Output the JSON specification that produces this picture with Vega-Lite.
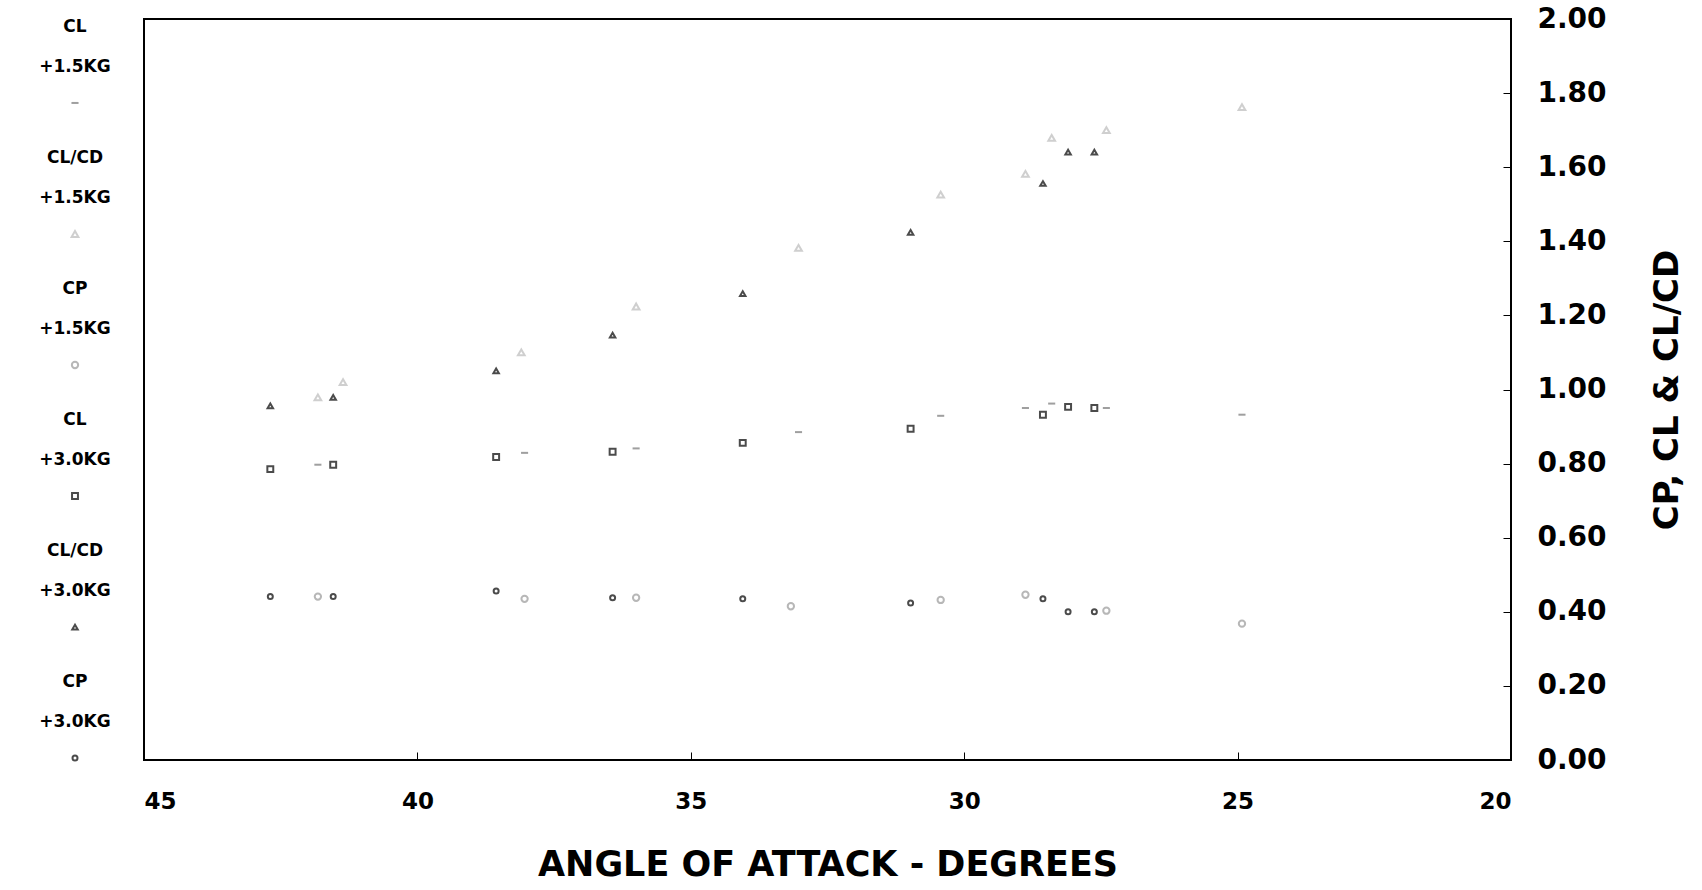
{
  "$schema": "https://vega.github.io/schema/vega-lite/v6.json",
  "background": "white",
  "padding": {"left": 20, "top": 4, "right": 5, "bottom": 5},
  "spacing": 12,
  "config": {
    "font": "DejaVu Sans",
    "view": {"stroke": "black", "strokeWidth": 2},
    "axis": {"labelColor": "black", "titleColor": "black", "domain": false, "grid": false, "labelFontWeight": "bold", "titleFontWeight": "bold", "tickColor": "black"}
  },
  "datasets": {
    "pts": [
      {"aoa": 42.69, "value": 0.956, "series": "CL/CD +3.0KG"},
      {"aoa": 41.54, "value": 0.979, "series": "CL/CD +3.0KG"},
      {"aoa": 38.56, "value": 1.05, "series": "CL/CD +3.0KG"},
      {"aoa": 36.43, "value": 1.147, "series": "CL/CD +3.0KG"},
      {"aoa": 34.05, "value": 1.259, "series": "CL/CD +3.0KG"},
      {"aoa": 30.98, "value": 1.424, "series": "CL/CD +3.0KG"},
      {"aoa": 28.56, "value": 1.556, "series": "CL/CD +3.0KG"},
      {"aoa": 28.1, "value": 1.641, "series": "CL/CD +3.0KG"},
      {"aoa": 27.62, "value": 1.641, "series": "CL/CD +3.0KG"},
      {"aoa": 41.82, "value": 0.979, "series": "CL/CD +1.5KG"},
      {"aoa": 41.36, "value": 1.02, "series": "CL/CD +1.5KG"},
      {"aoa": 38.1, "value": 1.10, "series": "CL/CD +1.5KG"},
      {"aoa": 36.0, "value": 1.224, "series": "CL/CD +1.5KG"},
      {"aoa": 33.03, "value": 1.382, "series": "CL/CD +1.5KG"},
      {"aoa": 30.43, "value": 1.526, "series": "CL/CD +1.5KG"},
      {"aoa": 28.88, "value": 1.582, "series": "CL/CD +1.5KG"},
      {"aoa": 28.4, "value": 1.679, "series": "CL/CD +1.5KG"},
      {"aoa": 27.4, "value": 1.70, "series": "CL/CD +1.5KG"},
      {"aoa": 24.92, "value": 1.762, "series": "CL/CD +1.5KG"},
      {"aoa": 42.69, "value": 0.785, "series": "CL +3.0KG"},
      {"aoa": 41.54, "value": 0.797, "series": "CL +3.0KG"},
      {"aoa": 38.56, "value": 0.818, "series": "CL +3.0KG"},
      {"aoa": 36.43, "value": 0.832, "series": "CL +3.0KG"},
      {"aoa": 34.05, "value": 0.856, "series": "CL +3.0KG"},
      {"aoa": 30.98, "value": 0.894, "series": "CL +3.0KG"},
      {"aoa": 28.56, "value": 0.932, "series": "CL +3.0KG"},
      {"aoa": 28.1, "value": 0.953, "series": "CL +3.0KG"},
      {"aoa": 27.62, "value": 0.95, "series": "CL +3.0KG"},
      {"aoa": 41.82, "value": 0.797, "series": "CL +1.5KG"},
      {"aoa": 38.04, "value": 0.829, "series": "CL +1.5KG"},
      {"aoa": 36.0, "value": 0.841, "series": "CL +1.5KG"},
      {"aoa": 33.03, "value": 0.885, "series": "CL +1.5KG"},
      {"aoa": 30.43, "value": 0.929, "series": "CL +1.5KG"},
      {"aoa": 28.88, "value": 0.95, "series": "CL +1.5KG"},
      {"aoa": 28.4, "value": 0.962, "series": "CL +1.5KG"},
      {"aoa": 27.4, "value": 0.95, "series": "CL +1.5KG"},
      {"aoa": 24.92, "value": 0.932, "series": "CL +1.5KG"},
      {"aoa": 42.69, "value": 0.441, "series": "CP +3.0KG"},
      {"aoa": 41.54, "value": 0.441, "series": "CP +3.0KG"},
      {"aoa": 38.56, "value": 0.456, "series": "CP +3.0KG"},
      {"aoa": 36.43, "value": 0.438, "series": "CP +3.0KG"},
      {"aoa": 34.05, "value": 0.435, "series": "CP +3.0KG"},
      {"aoa": 30.98, "value": 0.424, "series": "CP +3.0KG"},
      {"aoa": 28.56, "value": 0.435, "series": "CP +3.0KG"},
      {"aoa": 28.1, "value": 0.40, "series": "CP +3.0KG"},
      {"aoa": 27.62, "value": 0.40, "series": "CP +3.0KG"},
      {"aoa": 41.82, "value": 0.441, "series": "CP +1.5KG"},
      {"aoa": 38.04, "value": 0.435, "series": "CP +1.5KG"},
      {"aoa": 36.0, "value": 0.438, "series": "CP +1.5KG"},
      {"aoa": 33.17, "value": 0.415, "series": "CP +1.5KG"},
      {"aoa": 30.43, "value": 0.432, "series": "CP +1.5KG"},
      {"aoa": 28.88, "value": 0.446, "series": "CP +1.5KG"},
      {"aoa": 27.4, "value": 0.403, "series": "CP +1.5KG"},
      {"aoa": 24.92, "value": 0.368, "series": "CP +1.5KG"}
    ],
    "leg": [
      {"series": "CL +1.5KG", "name": "CL", "kg": "+1.5KG"},
      {"series": "CL/CD +1.5KG", "name": "CL/CD", "kg": "+1.5KG"},
      {"series": "CP +1.5KG", "name": "CP", "kg": "+1.5KG"},
      {"series": "CL +3.0KG", "name": "CL", "kg": "+3.0KG"},
      {"series": "CL/CD +3.0KG", "name": "CL/CD", "kg": "+3.0KG"},
      {"series": "CP +3.0KG", "name": "CP", "kg": "+3.0KG"}
    ]
  },
  "hconcat": [
    {
      "width": 110,
      "height": 751,
      "view": {"stroke": null},
      "data": {"name": "leg"},
      "encoding": {
        "y": {"field": "series", "type": "ordinal", "sort": null, "scale": {"type": "point", "padding": 0.366}, "axis": null}
      },
      "layer": [
        {"mark": {"type": "text", "dy": -40, "fontSize": 17, "fontWeight": "bold", "color": "black"}, "encoding": {"text": {"field": "name"}}},
        {"mark": {"type": "text", "dy": 0, "fontSize": 17, "fontWeight": "bold", "color": "black"}, "encoding": {"text": {"field": "kg"}}},
        {
          "mark": {"type": "point", "filled": false, "strokeWidth": 2, "yOffset": 36},
          "encoding": {
            "shape": {"field": "series", "type": "nominal", "legend": null, "scale": {"domain": ["CL +1.5KG", "CL/CD +1.5KG", "CP +1.5KG", "CL +3.0KG", "CL/CD +3.0KG", "CP +3.0KG"], "range": ["stroke", "triangle-up", "circle", "square", "triangle-up", "circle"]}},
            "color": {"field": "series", "type": "nominal", "legend": null, "scale": {"domain": ["CL +1.5KG", "CL/CD +1.5KG", "CP +1.5KG", "CL +3.0KG", "CL/CD +3.0KG", "CP +3.0KG"], "range": ["#777777", "#bbbbbb", "#999999", "#000000", "#000000", "#000000"]}},
            "size": {"field": "series", "type": "nominal", "legend": null, "scale": {"domain": ["CL +1.5KG", "CL/CD +1.5KG", "CP +1.5KG", "CL +3.0KG", "CL/CD +3.0KG", "CP +3.0KG"], "range": [50, 25, 20, 80, 80, 80]}}
          }
        }
      ]
    },
    {
      "width": 1367,
      "height": 741,
      "data": {"name": "pts"},
      "mark": {"type": "point", "filled": false, "strokeWidth": 2},
      "encoding": {
        "x": {
          "field": "aoa", "type": "quantitative",
          "scale": {"domain": [20, 45], "reverse": true, "nice": false, "zero": false},
          "axis": {"values": [20, 25, 30, 35, 40, 45], "title": "ANGLE OF ATTACK - DEGREES", "labelFontSize": 23, "titleFontSize": 35, "tickSize": -8, "labelPadding": 38, "titlePadding": 34}
        },
        "y": {
          "field": "value", "type": "quantitative",
          "scale": {"domain": [0, 2], "nice": false},
          "axis": {"orient": "right", "values": [0, 0.2, 0.4, 0.6, 0.8, 1.0, 1.2, 1.4, 1.6, 1.8, 2.0], "format": ".2f", "title": "CP, CL & CL/CD", "titleAngle": 270, "labelFontSize": 28, "titleFontSize": 34, "tickSize": -8, "labelPadding": 34, "titlePadding": 78}
        },
        "shape": {"field": "series", "type": "nominal", "legend": null, "scale": {"domain": ["CL +1.5KG", "CL/CD +1.5KG", "CP +1.5KG", "CL +3.0KG", "CL/CD +3.0KG", "CP +3.0KG"], "range": ["stroke", "triangle-up", "circle", "square", "triangle-up", "circle"]}},
        "color": {"field": "series", "type": "nominal", "legend": null, "scale": {"domain": ["CL +1.5KG", "CL/CD +1.5KG", "CP +1.5KG", "CL +3.0KG", "CL/CD +3.0KG", "CP +3.0KG"], "range": ["#777777", "#bbbbbb", "#999999", "#000000", "#000000", "#000000"]}},
        "size": {"field": "series", "type": "nominal", "legend": null, "scale": {"domain": ["CL +1.5KG", "CL/CD +1.5KG", "CP +1.5KG", "CL +3.0KG", "CL/CD +3.0KG", "CP +3.0KG"], "range": [50, 25, 20, 80, 80, 80]}}
      }
    }
  ]
}
